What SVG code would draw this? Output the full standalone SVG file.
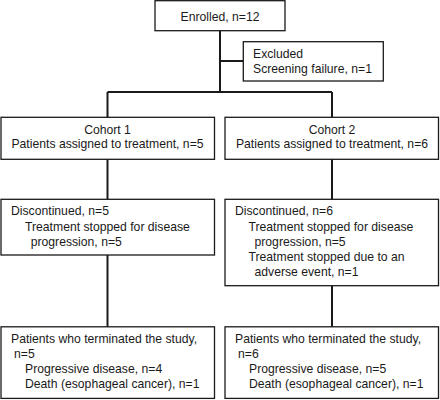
<svg xmlns="http://www.w3.org/2000/svg" width="440" height="400" viewBox="0 0 440 400">
<style>
.box{fill:#fff;stroke:#1a1a1a;stroke-width:1.3}
.ln{stroke:#1a1a1a;stroke-width:2;fill:none}
text{font-family:"Liberation Sans",Arial,sans-serif;font-size:12.2px;fill:#1a1a1a}
.c{text-anchor:middle}
</style>
<rect width="440" height="400" fill="#fff"/>
<g id="connectors">
<path class="ln" d="M220 31V92M220 61H243M107.5 92H332M107.5 92V117M332 92V117M107.5 159V199M332 159V199M107.5 255V327M332 286V327"/>
</g>
<g id="enrolled">
<rect class="box" x="155" y="0.7" width="130" height="30"/>
<text class="c" x="220" y="20.5">Enrolled, n=12</text>
</g>
<g id="excluded">
<rect class="box" x="243.3" y="41.7" width="140" height="39.3"/>
<text x="253" y="57.5">Excluded</text>
<text x="253" y="72.8">Screening failure, n=1</text>
</g>
<g id="cohort1">
<rect class="box" x="1" y="117.3" width="213.5" height="42"/>
<text class="c" x="107.5" y="133.5">Cohort 1</text>
<text class="c" x="107.5" y="148">Patients assigned to treatment, n=5</text>
</g>
<g id="cohort2">
<rect class="box" x="225" y="117.3" width="213.5" height="42"/>
<text class="c" x="332" y="133.5">Cohort 2</text>
<text class="c" x="332" y="148">Patients assigned to treatment, n=6</text>
</g>
<g id="disc1">
<rect class="box" x="1" y="199.3" width="213.5" height="55.7"/>
<text x="11" y="215.3">Discontinued, n=5</text>
<text x="25" y="230.7">Treatment stopped for disease</text>
<text x="30.7" y="245.7">progression, n=5</text>
</g>
<g id="disc2">
<rect class="box" x="225" y="199.3" width="213.5" height="86.4"/>
<text x="235" y="215.3">Discontinued, n=6</text>
<text x="248.5" y="230.7">Treatment stopped for disease</text>
<text x="254.5" y="245.7">progression, n=5</text>
<text x="248.5" y="260.7">Treatment stopped due to an</text>
<text x="254.5" y="275.7">adverse event, n=1</text>
</g>
<g id="term1">
<rect class="box" x="1" y="326.8" width="213.5" height="71.6"/>
<text x="11" y="343.2">Patients who terminated the study,</text>
<text x="14" y="358">n=5</text>
<text x="25" y="373">Progressive disease, n=4</text>
<text x="25" y="388">Death (esophageal cancer), n=1</text>
</g>
<g id="term2">
<rect class="box" x="225" y="326.8" width="213.5" height="71.6"/>
<text x="235" y="343.2">Patients who terminated the study,</text>
<text x="238" y="358">n=6</text>
<text x="249" y="373">Progressive disease, n=5</text>
<text x="249" y="388">Death (esophageal cancer), n=1</text>
</g>
</svg>
